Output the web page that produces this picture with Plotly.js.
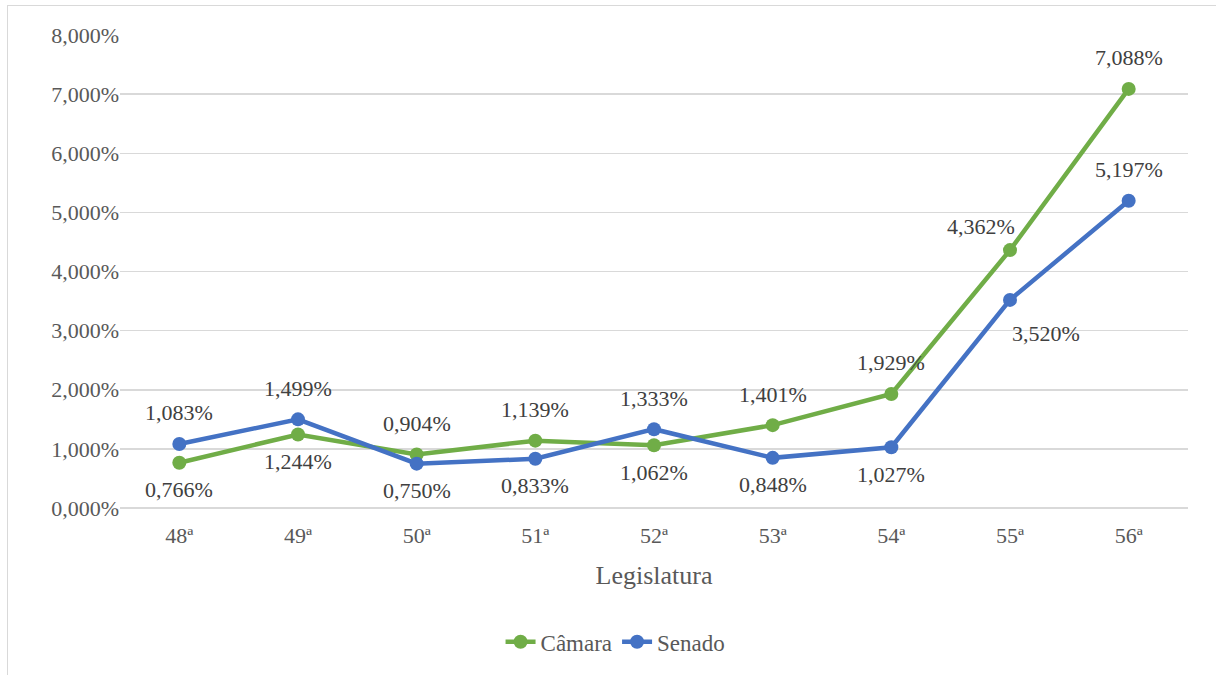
<!DOCTYPE html>
<html>
<head>
<meta charset="utf-8">
<script src="https://cdn.plot.ly/plotly-3.0.1.min.js"></script>
<style>
  html, body { margin: 0; padding: 0; background: #ffffff; overflow: hidden; }
  #chart { position: absolute; left: 0; top: 0; width: 1216px; height: 675px; }
  #frame { position: absolute; left: 7px; top: 5px; width: 1209px; height: 670px;
           border-left: 1.5px solid #d9d9d9; border-top: 1.5px solid #d9d9d9; box-sizing: border-box; }
</style>
</head>
<body>
<div id="chart"></div>
<div id="frame"></div>
<script>
// Legislatures (x axis)
const legislaturas = ['48ª', '49ª', '50ª', '51ª', '52ª', '53ª', '54ª', '55ª', '56ª'];
// Share per legislature, in percent
const camara = [0.766, 1.244, 0.904, 1.139, 1.062, 1.401, 1.929, 4.362, 7.088];
const senado = [1.083, 1.499, 0.750, 0.833, 1.333, 0.848, 1.027, 3.520, 5.197];

// Where each value label sits relative to its point
const camaraLabelPos = ['below', 'below', 'above', 'above', 'below', 'above', 'above', 'aboveLeft', 'above'];
const senadoLabelPos = ['above', 'above', 'below', 'below', 'above', 'below', 'below', 'belowRight', 'above'];

const GREEN = '#70AD47';
const BLUE = '#4472C4';
const SERIF = 'Liberation Serif';

const fmt = v => v.toFixed(3).replace('.', ',') + '%';

const shifts = {
  above: { x: 0, y: 31 },
  below: { x: 0, y: -27 },
  aboveLeft: { x: -29, y: 24 },
  belowRight: { x: 36, y: -34 }
};

function labels(values, positions) {
  return values.map((v, i) => ({
    x: legislaturas[i], y: v, text: fmt(v),
    xref: 'x', yref: 'y', showarrow: false,
    xshift: shifts[positions[i]].x, yshift: shifts[positions[i]].y,
    font: { family: SERIF, size: 22, color: '#404040' }
  }));
}

const traces = [
  {
    name: 'Câmara', x: legislaturas, y: camara, type: 'scatter', mode: 'lines+markers',
    line: { color: GREEN, width: 4.5 }, marker: { color: GREEN, size: 14 }
  },
  {
    name: 'Senado', x: legislaturas, y: senado, type: 'scatter', mode: 'lines+markers',
    line: { color: BLUE, width: 4.5 }, marker: { color: BLUE, size: 14 }
  }
];

const layout = {
  width: 1216, height: 675,
  margin: { l: 120, r: 28, t: 35, b: 167 },
  plot_bgcolor: '#ffffff',
  font: { family: SERIF, size: 22, color: '#595959' },
  separators: ',.',
  showlegend: true,
  legend: {
    orientation: 'h', x: 0.464, xanchor: 'center', y: -0.283, yanchor: 'middle',
    font: { family: SERIF, size: 23, color: '#595959' }
  },
  xaxis: {
    type: 'category', range: [-0.5, 8.5],
    showgrid: false, zeroline: false, showline: false, ticks: '',
    ticklabelstandoff: 12,
    tickfont: { family: SERIF, size: 22, color: '#595959' },
    title: { text: 'Legislatura', standoff: 18, font: { family: SERIF, size: 26, color: '#595959' } }
  },
  yaxis: {
    range: [0, 8], dtick: 1, tickformat: '.3f', ticksuffix: '%',
    showgrid: true, gridcolor: '#d9d9d9', gridwidth: 1.5,
    zeroline: true, zerolinecolor: '#d9d9d9', zerolinewidth: 1.5,
    showline: false, ticks: '',
    tickfont: { family: SERIF, size: 22, color: '#595959' },
    automargin: false
  },
  annotations: labels(camara, camaraLabelPos).concat(labels(senado, senadoLabelPos))
};

Plotly.newPlot('chart', traces, layout, { displayModeBar: false, staticPlot: true });
</script>
</body>
</html>
